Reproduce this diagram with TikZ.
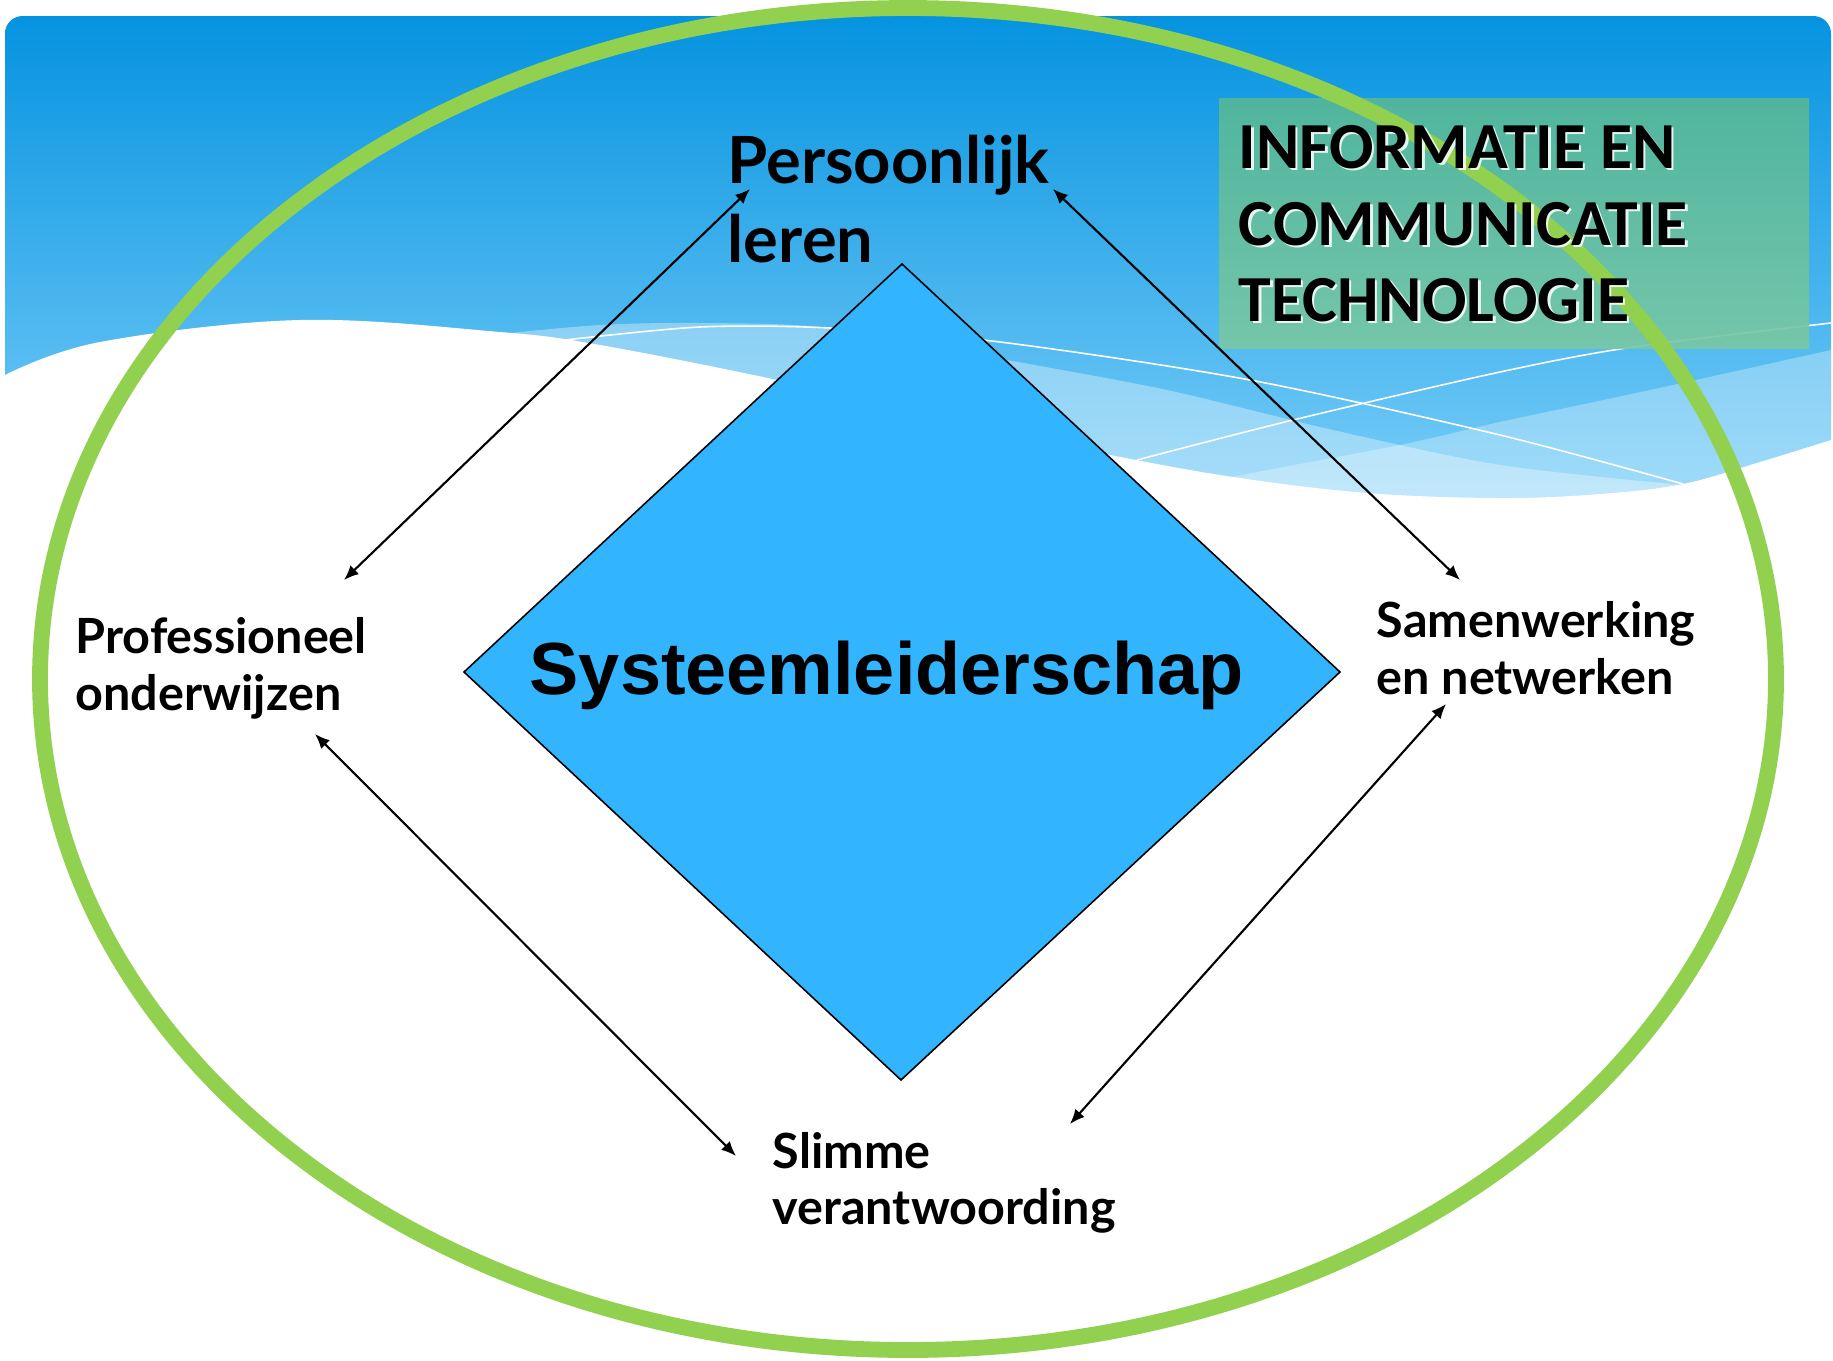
\documentclass[tikz,border=0pt]{standalone}
\usepackage{fontspec}
\setmainfont{Liberation Sans}
\newfontfamily\comicfont{Lato}
\newfontfamily\ictfont{Carlito}
\usetikzlibrary{arrows.meta}
\definecolor{bgtop}{RGB}{5,147,224}
\definecolor{bgbot}{RGB}{120,205,248}
\definecolor{dia}{RGB}{50,180,254}
\definecolor{ring}{RGB}{146,208,80}
\definecolor{icttop}{RGB}{85,183,153}
\definecolor{ictbot}{RGB}{120,200,165}
\begin{document}
\begin{tikzpicture}[x=0.01cm,y=-0.01cm,
  lbl/.style={anchor=base west, inner sep=0pt, font=\comicfont\bfseries\fontsize{13.8}{16}\selectfont},
  biglbl/.style={anchor=base west, inner sep=0pt, font=\comicfont\bfseries\fontsize{18.5}{22}\selectfont},
  ict/.style={anchor=base west, inner sep=0pt, font=\ictfont\bfseries\fontsize{18.7}{22}\selectfont},
  ictshadow/.style={ict, text=white, opacity=0.85},
  link/.style={line width=0.6pt, arrows={Latex[length=4.2pt,width=3.5pt]-Latex[length=4.2pt,width=3.5pt]}},
  wline/.style={white, line width=0.45pt},
  band/.style={white, fill opacity=#1},
]
\useasboundingbox (0,0) rectangle (1833,1360);
% background
\begin{scope}
  \clip[rounded corners=5pt] (5,16) rectangle (1831,800);
  \shade[top color=bgtop, bottom color=bgbot] (5,16) rectangle (1831,500);
  \fill[band=0.35] plot[smooth] coordinates {(500,334) (600,325) (700,323) (830,328) (1007,360) (1167,390) (1333,430) (1500,465) (1683,485)} -- (1683,600) -- (500,600) -- cycle;
  \fill[band=0.3] plot[smooth] coordinates {(1150,500) (1233,477) (1400,445) (1500,422) (1650,390) (1840,348)} -- (1840,600) -- (1150,600) -- cycle;
\end{scope}
\fill[white] (0,378) -- plot[smooth,tension=0.6] coordinates {(5,375) (100,342) (300,320) (500,332) (600,345) (777,380) (900,410) (1000,432) (1110,455) (1233,477) (1367,493) (1500,498) (1600,494) (1683,484) (1760,462) (1831,440)} -- (1833,440) -- (1833,1360) -- (0,1360) -- cycle;
\draw[wline] plot[smooth] coordinates {(565,340) (700,327) (830,328) (1000,342) (1250,380) (1500,435) (1683,484)};
\draw[wline] plot[smooth] coordinates {(1137,460) (1293,420) (1500,372) (1633,347) (1831,323)};
% ICT box
\shade[top color=icttop, bottom color=ictbot, fill opacity=0.92] (1219,98) rectangle (1809,348);
% green ring
\draw[ring, line width=4.5pt] (908,679) ellipse [x radius=868, y radius=671];
% diamond
\coordinate (dT) at (902,264);
\coordinate (dR) at (1340,672);
\coordinate (dB) at (901,1080);
\coordinate (dL) at (464,672);
\filldraw[fill=dia, draw=black, line width=0.45pt] (dT) -- (dR) -- (dB) -- (dL) -- cycle;
\node[anchor=base west, inner sep=0pt, font=\bfseries\fontsize{21}{25}\selectfont] (sys) at (529,694) {Systeemleiderschap};
% ICT text
\node[ictshadow] (icts1) at (1240.5,170) {INFORMATIE EN};
\node[ictshadow] (icts2) at (1240.5,247) {COMMUNICATIE};
\node[ictshadow] (icts3) at (1240.5,323) {TECHNOLOGIE};
\node[ict] (ict1) at (1238,168) {INFORMATIE EN};
\node[ict] (ict2) at (1238,245) {COMMUNICATIE};
\node[ict] (ict3) at (1238,321) {TECHNOLOGIE};
% labels
\node[biglbl] (pers1) at (727,183) {Persoonlijk};
\node[biglbl] (pers2) at (727,262) {leren};
\node[lbl] (prof1) at (75,653) {Professioneel};
\node[lbl] (prof2) at (75,710) {onderwijzen};
\node[lbl] (sam1) at (1376,637) {Samenwerking};
\node[lbl] (sam2) at (1376,694) {en netwerken};
\node[lbl] (slim1) at (772,1168) {Slimme};
\node[lbl] (slim2) at (772,1224) {verantwoording};
% arrow ends
\coordinate (a1p) at (344,580);
\coordinate (a1q) at (750,189);
\coordinate (a2p) at (1053,189);
\coordinate (a2q) at (1460,580);
\coordinate (a3p) at (315,734);
\coordinate (a3q) at (736,1156);
\coordinate (a4p) at (1446,704);
\coordinate (a4q) at (1070,1124);
\draw[link] (a1p) -- (a1q);
\draw[link] (a2p) -- (a2q);
\draw[link] (a3p) -- (a3q);
\draw[link] (a4p) -- (a4q);
\end{tikzpicture}
\end{document}
